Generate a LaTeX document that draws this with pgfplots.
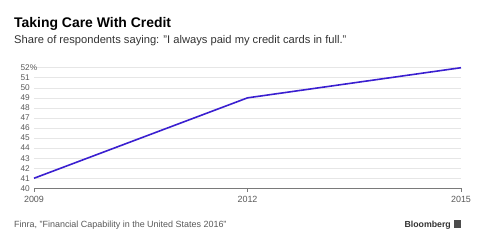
\documentclass[border=0pt]{standalone}
\usepackage{pgfplots}
\pgfplotsset{compat=1.18}
\usepackage{fontspec}
\setmainfont{Liberation Sans}
\definecolor{linecol}{HTML}{3A1FD0}
\definecolor{txtgray}{HTML}{5A5A5A}
\definecolor{gridgray}{HTML}{E6E6E6}
\definecolor{axisgray}{HTML}{7A7A7A}
\begin{document}
\begin{tikzpicture}[x=1bp,y=1bp]
\fill[white] (0,0) rectangle (488,-244);
\node[anchor=base west,inner sep=0,font=\bfseries\fontsize{14}{16}\selectfont] at (14,-27.5) {Taking Care With Credit};
\node[anchor=base west,inner sep=0,font=\fontsize{11.2}{13}\selectfont,text=black!80] at (14,-43.5) {Share of respondents saying: "I always paid my credit cards in full."};
\node[anchor=base west,inner sep=0,font=\fontsize{9}{11}\selectfont,text=txtgray] at (14,-227) {Finra, "Financial Capability in the United States 2016"};
\node[anchor=base east,inner sep=0,font=\bfseries\fontsize{8.8}{10}\selectfont,text=black!80] at (451,-227) {Bloomberg};
\fill[black!70] (454,-228) rectangle (461,-220);
\begin{axis}[
  at={(34bp,-188.3bp)}, anchor=south west,
  scale only axis, width=427bp, height=120.6bp,
  xmin=2009, xmax=2015, ymin=40, ymax=52,
  xtick={2009,2012,2015},
  xticklabels={2009,2012,2015},
  ytick={40,41,...,52},
  yticklabels={40,41,42,43,44,45,46,47,48,49,50,51,{52\rlap{\%}}},
  axis x line*=bottom, axis y line*=left,
  y axis line style={draw=none},
  x axis line style={axisgray, line width=0.8pt, -},
  xtick align=outside,
  major tick length=3.5bp,
  xtick style={axisgray, line width=0.8pt},
  ytick style={draw=none},
  ymajorgrids, grid style={gridgray, line width=0.6pt},
  xticklabel style={font=\fontsize{9}{11}\selectfont, text=txtgray, yshift=-1bp},
  yticklabel style={font=\fontsize{8.3}{10}\selectfont, text=txtgray, anchor=east, inner sep=0pt, xshift=-4bp},
  /pgf/number format/assume math mode=true,
  clip=false,
]
\addplot[linecol, line width=1.6pt, mark=none] coordinates {(2009,41) (2012,49) (2015,52)};
\end{axis}
\pgfresetboundingbox
\path (0,0) rectangle (488,-244);
\end{tikzpicture}
\end{document}
